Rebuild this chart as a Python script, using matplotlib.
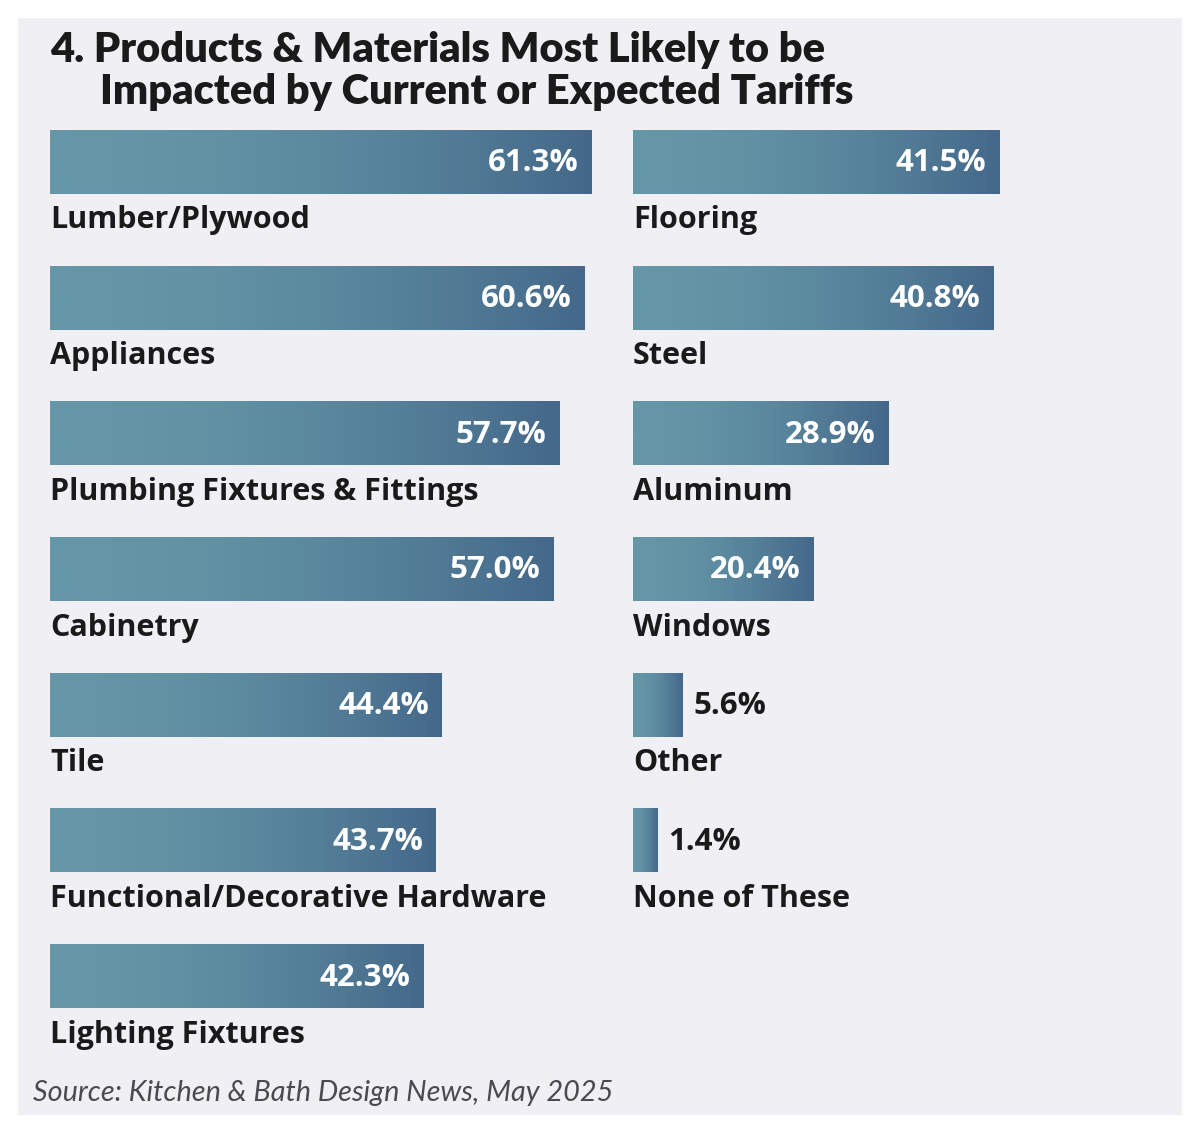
import numpy as np
import matplotlib
matplotlib.use("Agg")
import matplotlib.pyplot as plt
from matplotlib.patches import Rectangle
from matplotlib.colors import LinearSegmentedColormap

# ---- data ----
title_line1 = "4. Products & Materials Most Likely to be"
title_line2 = "Impacted by Current or Expected Tariffs"
left_categories = ["Lumber/Plywood", "Appliances", "Plumbing Fixtures & Fittings",
                   "Cabinetry", "Tile", "Functional/Decorative Hardware", "Lighting Fixtures"]
left_values = [61.3, 60.6, 57.7, 57.0, 44.4, 43.7, 42.3]
right_categories = ["Flooring", "Steel", "Aluminum", "Windows", "Other", "None of These"]
right_values = [41.5, 40.8, 28.9, 20.4, 5.6, 1.4]
source_text = "Source: Kitchen & Bath Design News, May 2025"

# ---- style ----
W, H, DPI = 1200, 1134, 100
PX_PER_PCT = 8.826
ROW_PX = 135.7
FIRST_CENTER_PX = 162
BAR_PX = 64
MIN_BAR_PCT = 2.8          # display minimum bar width
INSIDE_MIN = 15            # values below are labelled outside the bar
C_LEFT, C_RIGHT = "#6597a7", "#44688a"
PANEL = "#f0f0f4"
TEXT = "#1a1a1a"
FONT = ["Lato", "DejaVu Sans"]
LFONT = ["Open Sans", "DejaVu Sans"]

cmap = LinearSegmentedColormap.from_list("bar", [C_LEFT, C_RIGHT])

fig = plt.figure(figsize=(W / DPI, H / DPI), dpi=DPI, facecolor="white")
fig.patches.append(Rectangle((18 / W, 1 - 1115 / H), (1182 - 18) / W, (1115 - 18) / H,
                             transform=fig.transFigure, facecolor=PANEL, edgecolor="none", zorder=-10))

ymin = -FIRST_CENTER_PX / ROW_PX
ymax = (H - FIRST_CENTER_PX) / ROW_PX
bar_h = BAR_PX / ROW_PX


def column(x0_px, cats, vals):
    width_px = W - x0_px
    ax = fig.add_axes([x0_px / W, 0, width_px / W, 1])
    ax.set_facecolor("none")
    ax.set_zorder(1)
    xmax = width_px / PX_PER_PCT
    disp = [max(v, MIN_BAR_PCT) for v in vals]
    ypos = np.arange(len(vals))
    bars = ax.barh(ypos, disp, height=bar_h, left=0, color=C_LEFT, edgecolor="none")
    ramp = np.linspace(0, 1, 256) ** 1.8
    grad = ramp[np.newaxis, :]
    for b, v, d, cat, y in zip(bars, vals, disp, cats, ypos):
        im = ax.imshow(grad, cmap=cmap, extent=[0, d, y + bar_h / 2, y - bar_h / 2],
                       aspect="auto", interpolation="bicubic", zorder=2)
        im.set_clip_path(b)
        lab = f"{v:.1f}%"
        if v >= INSIDE_MIN:
            ax.text(d - 1.45, y + 0.01, lab, ha="right", va="center", color="white",
                    fontsize=22.5, fontweight="bold", family=LFONT, zorder=3)
        else:
            ax.text(d + 1.2, y + 0.01, lab, ha="left", va="center", color=TEXT,
                    fontsize=22.5, fontweight="bold", family=LFONT, zorder=3)
        ax.text(0, y + 0.49, cat, ha="left", va="baseline", color=TEXT,
                fontsize=22, fontweight="bold", family=LFONT, zorder=3)
    ax.set_xlim(0, xmax)
    ax.set_ylim(ymax, ymin)
    ax.axis("off")
    return ax


column(50, left_categories, left_values)
column(633, right_categories, right_values)

fig.text(50 / W, 1 - 62 / H, title_line1, ha="left", va="baseline", color=TEXT,
         fontsize=30, fontweight="heavy", family=FONT)
fig.text(100 / W, 1 - 104 / H, title_line2, ha="left", va="baseline", color=TEXT,
         fontsize=30, fontweight="heavy", family=FONT)
fig.text(33 / W, 1 - 1101 / H, source_text, ha="left", va="baseline", color="#4a4a50",
         fontsize=20.8, fontstyle="italic", fontweight="normal", family=FONT)

fig.savefig("out.png", dpi=DPI, facecolor="white")
